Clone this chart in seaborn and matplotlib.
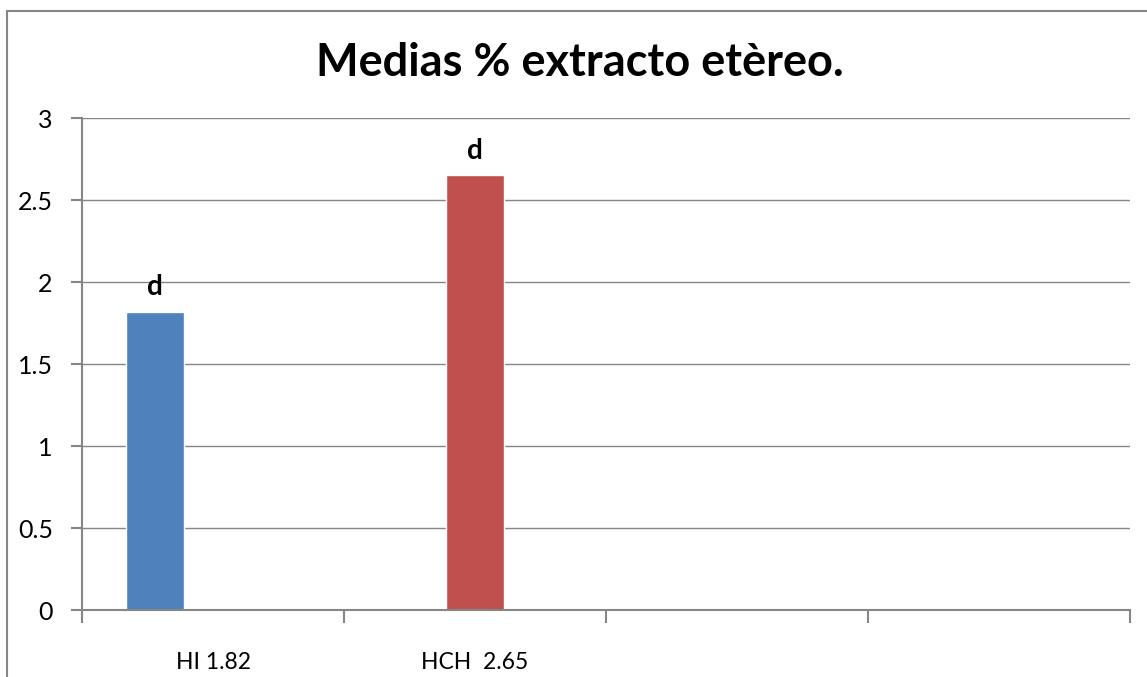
import matplotlib
matplotlib.use("Agg")
import matplotlib.pyplot as plt
import seaborn as sns
import pandas as pd
from matplotlib.patches import Rectangle

# ---- data ----
categories = ["c1", "c2", "c3", "c4"]
tick_labels = ["HI 1.82", "HCH  2.65", "", ""]
series = ["Serie 1", "Serie 2", "Serie 3"]
bar_category = ["c1", "c2"]
bar_series = ["Serie 1", "Serie 2"]
bar_values = [1.82, 2.65]
bar_letters = ["d", "d"]
series_colors = ["#4F81BD", "#C0504D", "#9BBB59"]
title = "Medias % extracto etèreo."

df = pd.DataFrame({"cat": bar_category, "serie": bar_series, "val": bar_values})

sns.set_theme(style="white")
plt.rcParams["font.family"] = ["Lato", "DejaVu Sans"]
plt.rcParams["text.color"] = "black"

W, H = 1147, 677
fig = plt.figure(figsize=(W / 100, H / 100), dpi=100)
ax = fig.add_axes([82 / W, 1 - 610 / H, (1130 - 82) / W, (610 - 118) / H])

sns.barplot(data=df, x="cat", y="val", hue="serie", order=categories,
            hue_order=series, palette=series_colors, width=2 / 3,
            dodge=True, saturation=1, legend=False, ax=ax, errorbar=None)

grey = "#868686"
ax.set_ylim(0, 3)
ax.set_xlim(-0.5, len(categories) - 0.5)
ax.set_yticks([0, 0.5, 1, 1.5, 2, 2.5, 3])
ax.set_yticklabels(["0", "0.5", "1", "1.5", "2", "2.5", "3"])
ax.yaxis.grid(True, color=grey, linewidth=1)
ax.set_axisbelow(True)
ax.set_xticks([i - 0.5 for i in range(len(categories) + 1)])
ax.set_xticklabels([""] * (len(categories) + 1))
ax.set_xticks(range(len(categories)), minor=True)
ax.set_xticklabels(tick_labels, minor=True)
ax.tick_params(axis="x", which="minor", bottom=True, length=0, pad=30,
               labelsize=16.5, labelcolor="black")
ax.tick_params(axis="x", which="major", bottom=True, length=9, width=1.5,
               color=grey, direction="out")
ax.tick_params(axis="y", which="major", left=True, length=8, width=1.5, color=grey,
               direction="out", pad=13, labelsize=18, labelcolor="black")
ax.set_xlabel("")
ax.set_ylabel("")
for s in ["top", "right"]:
    ax.spines[s].set_visible(False)
for s in ["left", "bottom"]:
    ax.spines[s].set_visible(True)
    ax.spines[s].set_color(grey)
    ax.spines[s].set_linewidth(1.5)

# letters above bars
for cat, ser, v, letter in zip(bar_category, bar_series, bar_values, bar_letters):
    xi = categories.index(cat)
    si = series.index(ser)
    xpos = xi - 1 / 3 + (si + 0.5) * (2 / 9)
    ax.annotate(letter, (xpos, v), xytext=(0, 8), textcoords="offset points",
                ha="center", va="bottom", fontsize=20, fontweight="bold",
                color="black")

fig.text(580 / W, 1 - 63 / H, title, ha="center", va="center",
         fontsize=32.5, fontweight="bold", color="black")

fig.patches.append(Rectangle((7 / W, -0.1), 1.2, 1 - 11 / H + 0.1,
                             transform=fig.transFigure, fill=False,
                             edgecolor=grey, linewidth=1.5))

fig.savefig("out.png", dpi=100)
